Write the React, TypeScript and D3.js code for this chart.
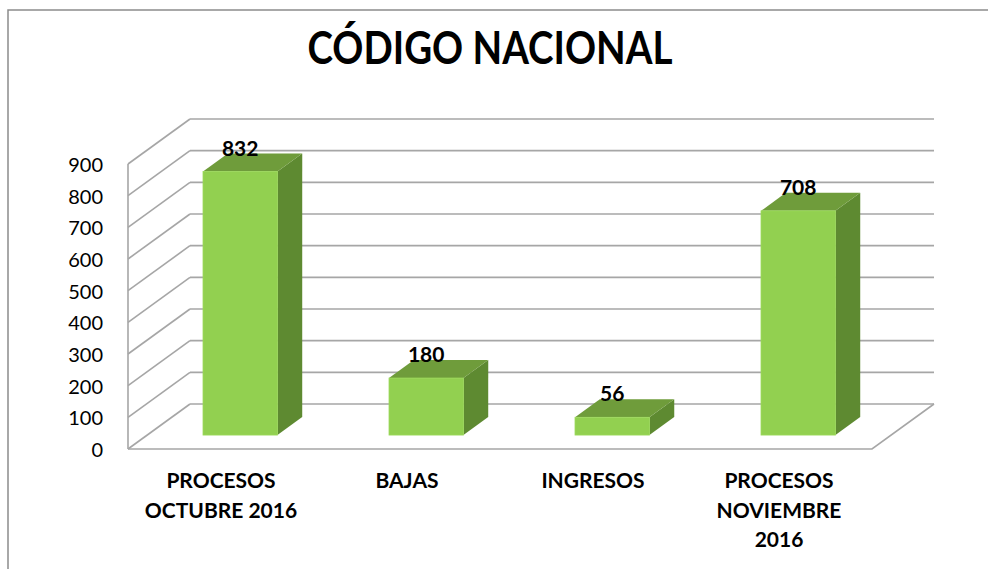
import React from "react";
import * as d3 from "d3";

const categories = ["PROCESOS OCTUBRE 2016", "BAJAS", "INGRESOS", "PROCESOS NOVIEMBRE 2016"];
const categoryLines = [["PROCESOS", "OCTUBRE 2016"], ["BAJAS"], ["INGRESOS"], ["PROCESOS", "NOVIEMBRE", "2016"]];
const values = [832, 180, 56, 708];
const yTicks = [0, 100, 200, 300, 400, 500, 600, 700, 800, 900];

const W = 988;
const H = 569;
const DEPTH_X = 62;
const DEPTH_Y = -45;
const BAR_FRONT = 0.31; // where bars sit inside the floor depth
const BAR_BACK = 0.71;

const FONT = "Lato, 'Liberation Sans', Arial, sans-serif";
const GRID = "#a6a6a6";

const App = () => {
  const x = d3.scaleBand<string>().domain(categories).range([128, 872]).paddingInner(0.6).paddingOuter(0.3);
  const y = d3.scaleLinear().domain([0, 900]).range([449, 164]);

  const [x0, x1] = x.range();
  const back = (px: number, py: number, f = 1) => [px + DEPTH_X * f, py + DEPTH_Y * f];
  const pts = (arr: number[][]) => arr.map((p) => p.join(",")).join(" ");

  return (
    <svg width={W} height={H} style={{ position: "absolute", left: 0, top: 0, background: "#fff" }}>
      {/* chart border */}
      <path d={`M8,${H} V10 H${W}`} fill="none" stroke="#8c8c8c" strokeWidth={1.5} />

      <text x={490} y={64} textAnchor="middle" fontFamily={FONT} fontWeight="bold" fontSize={46}
        textLength={365} lengthAdjust="spacingAndGlyphs" fill="#000">
        CÓDIGO NACIONAL
      </text>

      {/* back wall + side wall gridlines */}
      <g stroke={GRID} strokeWidth={1.6} fill="none">
        {yTicks.map((t) => {
          const [bx, by] = back(x0, y(t));
          const [ex] = back(x1, y(t));
          return (
            <g key={t}>
              <line x1={x0} y1={y(t)} x2={bx} y2={by} />
              <line x1={bx} y1={by} x2={ex} y2={by} />
            </g>
          );
        })}
        {/* floor */}
        <polyline points={pts([[x0, y(0)], [x1, y(0)], back(x1, y(0))])} />
        {/* front axis */}
        <line x1={x0} y1={y(900)} x2={x0} y2={y(0)} />
      </g>

      {yTicks.map((t) => (
        <text key={t} x={103} y={y(t) + 3} textAnchor="end" dominantBaseline="middle"
          fontFamily={FONT} fontSize={20} fill="#000">
          {t}
        </text>
      ))}

      {/* 3d bars */}
      {categories.map((c, i) => {
        const bw = x.bandwidth();
        const [fx, fyBottom] = back(x(c) as number, y(0), BAR_FRONT);
        const fyTop = fyBottom - (y(0) - y(values[i]));
        const dx = DEPTH_X * (BAR_BACK - BAR_FRONT);
        const dy = DEPTH_Y * (BAR_BACK - BAR_FRONT);
        return (
          <g key={c}>
            <polygon points={pts([[fx + bw, fyTop], [fx + bw + dx, fyTop + dy], [fx + bw + dx, fyBottom + dy], [fx + bw, fyBottom]])}
              fill="#5e8a31" />
            <polygon points={pts([[fx, fyTop], [fx + dx, fyTop + dy], [fx + bw + dx, fyTop + dy], [fx + bw, fyTop]])}
              fill="#6f9c3b" />
            <rect x={fx} y={fyTop} width={bw} height={fyBottom - fyTop} fill="#92d050" stroke="#9bd95a" strokeWidth={0.8} />
            <text x={fx + bw / 2} y={fyTop + dy + 2} textAnchor="middle" fontFamily={FONT} fontWeight="bold"
              fontSize={21} fill="#000">
              {values[i]}
            </text>
          </g>
        );
      })}

      {/* category labels */}
      {categories.map((c, i) => (
        <text key={c} x={(x(c) as number) + x.bandwidth() / 2} y={488} textAnchor="middle"
          fontFamily={FONT} fontWeight="bold" fontSize={21} fill="#000">
          {categoryLines[i].map((line, j) => (
            <tspan key={j} x={(x(c) as number) + x.bandwidth() / 2} dy={j === 0 ? 0 : 29.5}>
              {line}
            </tspan>
          ))}
        </text>
      ))}
    </svg>
  );
};

export default App;
